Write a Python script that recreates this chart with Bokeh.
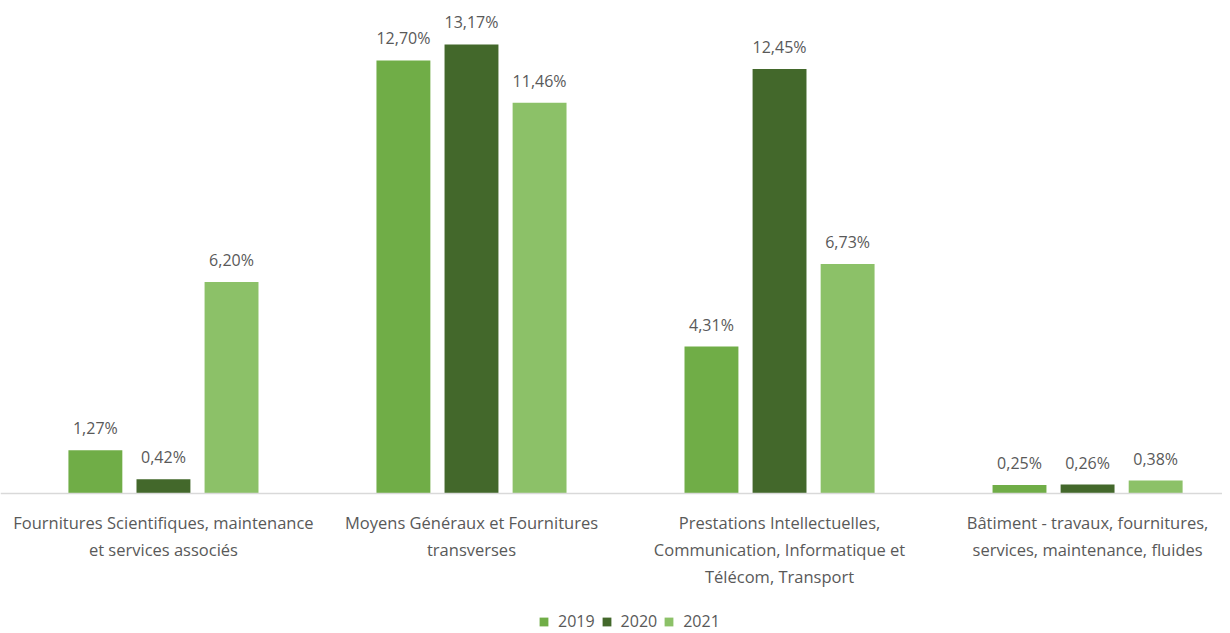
from bokeh.plotting import figure
from bokeh.models import ColumnDataSource, Range1d, Legend, LegendItem, Span
from bokeh.core.properties import value
from bokeh.embed import file_html
from bokeh.resources import INLINE

categories = [
    "Fournitures Scientifiques, maintenance\net services associés",
    "Moyens Généraux et Fournitures\ntransverses",
    "Prestations Intellectuelles,\nCommunication, Informatique et\nTélécom, Transport",
    "Bâtiment - travaux, fournitures,\nservices, maintenance, fluides",
]
years = ["2019", "2020", "2021"]
v2019 = [1.27, 12.70, 4.31, 0.25]
v2020 = [0.42, 13.17, 12.45, 0.26]
v2021 = [6.20, 11.46, 6.73, 0.38]
colors = ["#70AD47", "#43682B", "#8CC168"]

FONT = "Open Sans"
GREY = "#595959"

p = figure(width=1222, height=633, output_backend="svg", toolbar_location=None,
           x_range=Range1d(-0.529, 3.438), y_range=Range1d(-4.106, 14.457),
           min_border_left=0, min_border_right=0, min_border_top=0, min_border_bottom=0)
p.outline_line_color = None
p.grid.grid_line_color = None
p.xaxis.visible = False
p.yaxis.visible = False
p.background_fill_color = "white"
p.border_fill_color = "white"

p.add_layout(Span(location=0, dimension="width", line_color="#D9D9D9", line_width=1.5))

offsets = [-0.221, 0.0, 0.221]
series = [v2019, v2020, v2021]
renderers = []
for vals, off, col in zip(series, offsets, colors):
    xs = [i + off for i in range(len(categories))]
    src = ColumnDataSource(dict(x=xs, top=vals,
                                lab=[("%.2f" % v).replace(".", ",") + "%" for v in vals]))
    r = p.vbar(x="x", top="top", width=0.175, bottom=0, source=src,
               fill_color=col, line_color=None)
    renderers.append(r)
    p.text(x="x", y="top", text="lab", source=src, y_offset=-11,
           text_align="center", text_baseline="bottom", text_color=GREY,
           text_font=value(FONT), text_font_size="16px")

cat_src = ColumnDataSource(dict(x=list(range(len(categories))), y=[0] * len(categories),
                                t=categories))
p.text(x="x", y="y", text="t", source=cat_src, y_offset=18,
       text_align="center", text_baseline="top", text_color=GREY,
       text_font=value(FONT), text_font_size="16.5px", text_line_height=1.155)

legend = Legend(items=[LegendItem(label=y, renderers=[r]) for y, r in zip(years, renderers)],
                orientation="horizontal", location=(538, 1),
                label_text_font=FONT, label_text_font_size="16px", label_text_color=GREY,
                glyph_width=11, glyph_height=11, spacing=6, label_standoff=9,
                background_fill_alpha=0, border_line_color=None, padding=0, margin=0)
p.add_layout(legend, "center")

open("out.html", "w").write(file_html(p, INLINE))
